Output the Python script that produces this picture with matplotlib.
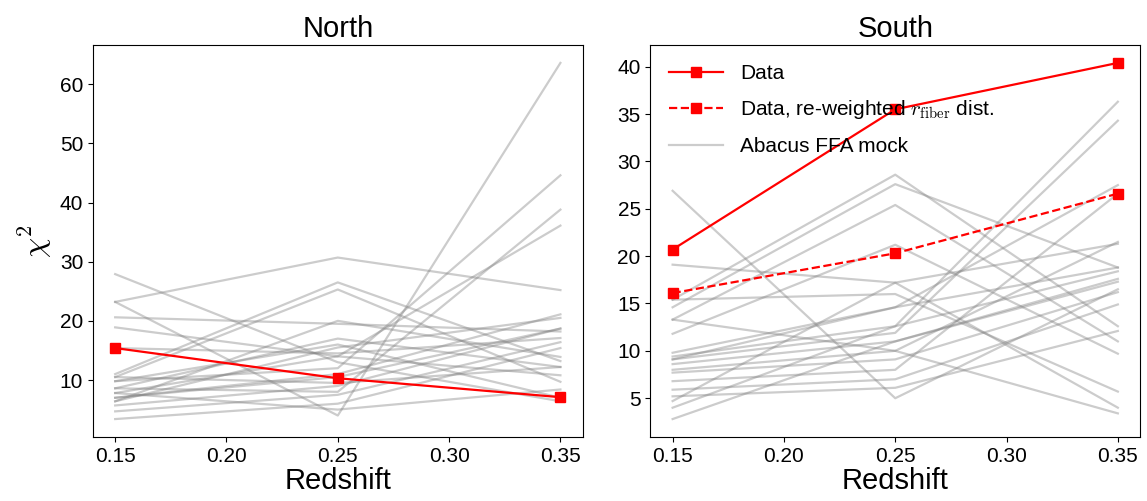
import numpy as np
import matplotlib.pyplot as plt

plt.rcParams["font.family"] = ["Liberation Sans", "DejaVu Sans"]
plt.rcParams["mathtext.fontset"] = "cm"

zbins = [0.15, 0.25, 0.35]

# chi^2 of the data in each redshift bin
north_data = [15.4, 10.3, 7.1]
south_data = [20.7, 35.5, 40.4]
south_data_rw = [16.1, 20.3, 26.6]

# chi^2 of individual Abacus FFA mocks (z=0.15, 0.25, 0.35)
north_mocks = [
    [27.9, 13.0, 6.4], [23.2, 30.7, 25.2], [23.2, 4.0, 63.6], [20.6, 19.5, 18.2],
    [18.9, 14.0, 10.8], [15.4, 14.5, 17.1], [11.0, 26.5, 13.2], [10.5, 25.3, 9.7],
    [9.8, 12.0, 44.6], [8.6, 8.0, 38.8], [7.8, 14.0, 36.1], [7.0, 11.0, 21.1],
    [6.4, 15.5, 20.5], [5.7, 9.0, 18.7], [4.7, 7.5, 16.4], [3.4, 6.0, 15.4],
    [10.5, 9.5, 12.2], [7.8, 5.0, 8.4], [6.4, 20.0, 13.9], [8.6, 17.0, 12.2],
    [7.0, 10.5, 18.7], [9.8, 16.0, 7.0],
]
south_mocks = [
    [26.9, 5.0, 16.5], [19.1, 17.2, 21.3], [15.4, 28.6, 12.6], [14.6, 27.6, 18.8],
    [13.3, 25.4, 11.0], [11.8, 21.2, 9.7], [9.8, 14.6, 27.5], [9.4, 12.6, 36.3],
    [9.1, 11.9, 34.3], [8.6, 11.0, 17.6], [8.0, 10.0, 21.5], [7.7, 9.1, 16.2],
    [6.8, 8.0, 26.6], [5.9, 7.0, 14.9], [5.2, 6.1, 12.1], [4.7, 17.2, 4.0],
    [4.0, 12.6, 18.4], [2.8, 11.0, 17.3], [15.4, 16.0, 5.7], [13.3, 10.0, 3.4],
    [9.1, 14.6, 18.8],
]

fig = plt.figure(figsize=(11.47, 5.01), dpi=100)
axN = fig.add_axes([0.081, 0.128, 0.427, 0.782])
axS = fig.add_axes([0.567, 0.128, 0.427, 0.782])

for ax, mocks in [(axN, north_mocks), (axS, south_mocks)]:
    for i, m in enumerate(mocks):
        ax.plot(zbins, m, color="gray", alpha=0.4, lw=1.6,
                label="Abacus FFA mock" if i == 0 else None, zorder=1)

axN.plot(zbins, north_data, "s-", color="red", ms=7, lw=1.6, label="Data", zorder=3)
axS.plot(zbins, south_data, "s-", color="red", ms=7, lw=1.6, label="Data", zorder=3)
axS.plot(zbins, south_data_rw, "s--", color="red", ms=7, lw=1.6,
         label=r"Data, re-weighted $r_{\rm fiber}$ dist.", zorder=3)

for ax, title in [(axN, "North"), (axS, "South")]:
    ax.set_title(title, fontsize=21)
    ax.set_xlabel("Redshift", fontsize=21, labelpad=1)
    ax.set_xticks([0.15, 0.20, 0.25, 0.30, 0.35])
    ax.set_xticklabels(["0.15", "0.20", "0.25", "0.30", "0.35"])
    ax.tick_params(labelsize=15)
axN.set_ylabel(r"$\chi^2$", fontsize=23)

h, l = axS.get_legend_handles_labels()
order = [l.index("Data"), l.index(r"Data, re-weighted $r_{\rm fiber}$ dist."),
         l.index("Abacus FFA mock")]
axS.legend([h[i] for i in order], [l[i] for i in order], loc="upper left",
           frameon=False, fontsize=15, labelspacing=0.75, handlelength=2.6)

fig.savefig("out.png", dpi=100)
